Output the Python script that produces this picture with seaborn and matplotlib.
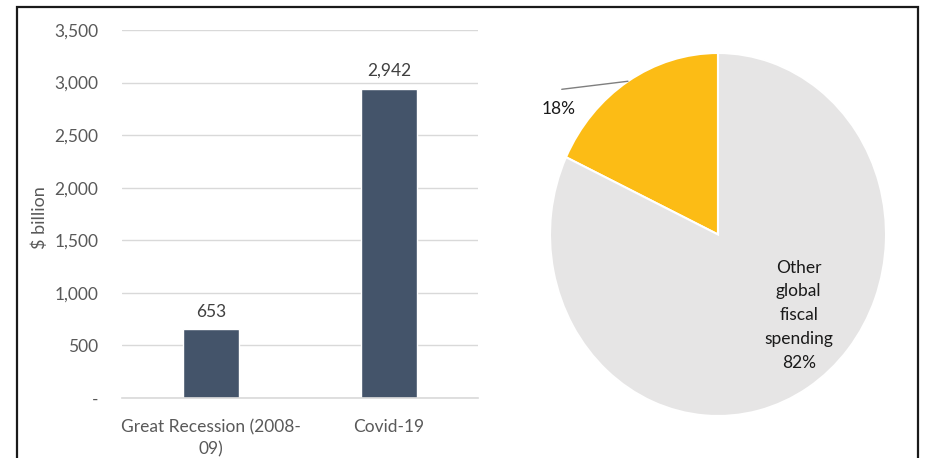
import matplotlib
matplotlib.use("Agg")
import matplotlib.pyplot as plt
from matplotlib.patches import Rectangle
import numpy as np
import pandas as pd
import seaborn as sns

# Fiscal stimulus, $ billion
periods = ["Great Recession (2008-\n09)", "Covid-19"]
stimulus = [653, 2942]
y_ticks = [0, 500, 1000, 1500, 2000, 2500, 3000, 3500]
y_tick_labels = ["-", "500", "1,000", "1,500", "2,000", "2,500", "3,000", "3,500"]

# Share of global fiscal spending
share_labels = ["18%", "Other\nglobal\nfiscal\nspending\n82%"]
share_values = [18, 82]

sns.set_theme(style="white")
plt.rcParams["font.family"] = ["Lato", "DejaVu Sans"]

BAR = "#44546A"
GRID = "#D9D9D9"
TICK = "#595959"
YELLOW = "#FCBC15"
LIGHT = "#E6E5E5"
FS = 12.5

fig = plt.figure(figsize=(9.26, 4.58), dpi=100)
W, H = 926, 458

def px_axes(x0, y0, x1, y1):
    return fig.add_axes([x0 / W, 1 - y1 / H, (x1 - x0) / W, (y1 - y0) / H])

# ---- bar chart ----
ax = px_axes(122, 30, 478, 398)
df = pd.DataFrame({"period": periods, "value": stimulus})
sns.barplot(data=df, x="period", y="value", color=BAR, width=0.31,
            saturation=1, ax=ax)
ax.set_ylim(0, 3500)
ax.set_xlim(-0.5, 1.5)
ax.set_yticks(y_ticks)
ax.set_yticklabels(y_tick_labels, color=TICK, fontsize=FS)
ax.tick_params(axis="x", colors=TICK, labelsize=FS, length=0, pad=15)
for t in ax.get_xticklabels():
    t.set_linespacing(1.5)
ax.tick_params(axis="y", length=0, pad=17)
ax.yaxis.grid(True, color=GRID, linewidth=1)
ax.set_axisbelow(True)
for s in ["top", "right", "left"]:
    ax.spines[s].set_visible(False)
ax.spines["bottom"].set_color(GRID)
ax.spines["bottom"].set_linewidth(1.2)
ax.set_xlabel("")
ax.set_ylabel("$ billion", color=TICK, fontsize=FS + 0.5)
ax.yaxis.set_label_coords(-0.208, 0.49)
ax.bar_label(ax.containers[0], labels=[f"{v:,}" for v in stimulus],
             padding=7, color="#404040", fontsize=FS)

# ---- pie chart ----
pax = px_axes(550, 53, 886, 416)
wedges, _ = pax.pie(share_values, colors=[YELLOW, LIGHT], startangle=90,
                    counterclock=True,
                    wedgeprops=dict(edgecolor="white", linewidth=1.5))
pax.set_aspect("auto")
pax.set_xlim(-1, 1)
pax.set_ylim(-1, 1)

# leader line from the small wedge's outer midpoint
mid = np.deg2rad(90 + 360 * share_values[0] / sum(share_values) / 2)
mx, my = np.cos(mid), np.sin(mid)
pax.plot([mx, -0.93], [my, 0.80], color="#7F7F7F", linewidth=1, clip_on=False)
pax.text(-0.95, 0.69, share_labels[0], ha="center", va="center",
         fontsize=FS, color="#1A1A1A")
pax.text(0.48, -0.445, share_labels[1], ha="center", va="center",
         fontsize=FS, color="#1A1A1A", linespacing=1.6)

# outer frame
fig.add_artist(Rectangle((17 / W, -0.05), (918 - 17) / W, 1.05 - 7 / H,
                         transform=fig.transFigure, fill=False,
                         edgecolor="#1A1A1A", linewidth=1.6, clip_on=False))

fig.savefig("out.png", dpi=100)
